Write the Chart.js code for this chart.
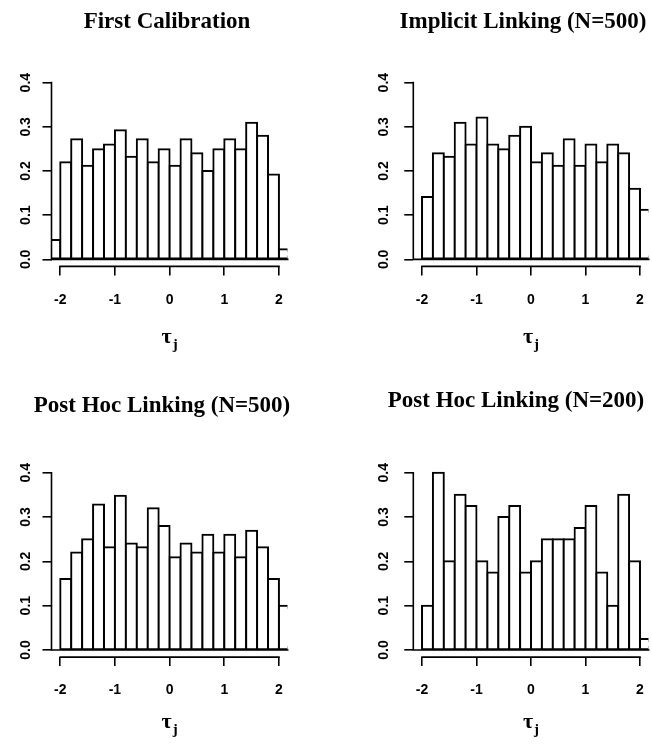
<!DOCTYPE html>
<html>
<head>
<meta charset="utf-8">
<script src="https://cdn.jsdelivr.net/npm/chart.js@4"></script>
<style>
  html, body { margin: 0; padding: 0; background: #ffffff; }
  #wrap { position: relative; width: 652px; height: 744px; overflow: hidden; }
  canvas { position: absolute; }
</style>
</head>
<body>
<div id="wrap">
  <canvas id="p1" width="326" height="372" style="left:0;top:0"></canvas>
  <canvas id="p2" width="326" height="372" style="left:326px;top:0"></canvas>
  <canvas id="p3" width="326" height="372" style="left:0;top:372px"></canvas>
  <canvas id="p4" width="326" height="372" style="left:326px;top:372px"></canvas>
</div>
<script>
// Histogram bins of width 0.2 from -2.2 to 2.2 (bin centres)
const binCenters = [-2.1, -1.9, -1.7, -1.5, -1.3, -1.1, -0.9, -0.7, -0.5, -0.3, -0.1,
                    0.1, 0.3, 0.5, 0.7, 0.9, 1.1, 1.3, 1.5, 1.7, 1.9, 2.1];
const binWidth = 0.2;

// Density per bin for each panel
const firstCalibration = [0.044, 0.220, 0.272, 0.212, 0.249, 0.260, 0.292, 0.232, 0.272, 0.220, 0.249,
                          0.212, 0.272, 0.240, 0.200, 0.249, 0.272, 0.249, 0.309, 0.280, 0.192, 0.023];
const implicitLinking500 = [0, 0.141, 0.240, 0.232, 0.309, 0.260, 0.321, 0.260, 0.249, 0.280, 0.300,
                            0.220, 0.240, 0.212, 0.272, 0.212, 0.260, 0.220, 0.260, 0.240, 0.160, 0.112];
const postHocLinking500 = [0, 0.160, 0.220, 0.250, 0.328, 0.232, 0.348, 0.240, 0.232, 0.320, 0.280,
                           0.209, 0.240, 0.220, 0.260, 0.220, 0.260, 0.209, 0.269, 0.232, 0.160, 0.100];
const postHocLinking200 = [0, 0.100, 0.400, 0.200, 0.350, 0.325, 0.200, 0.175, 0.300, 0.325, 0.175,
                           0.200, 0.250, 0.250, 0.250, 0.275, 0.325, 0.175, 0.100, 0.350, 0.200, 0.025];

const panelTitles = ['First Calibration', 'Implicit Linking (N=500)',
                     'Post Hoc Linking (N=500)', 'Post Hoc Linking (N=200)'];
const xTicks = [-2, -1, 0, 1, 2];
const yTicks = [0, 0.1, 0.2, 0.3, 0.4];
const xRange = [-2.16, 2.16];
const yRange = [-0.016, 0.416];

// Plot-region placement inside each 326x372 canvas
const frames = [
  { left: 51.5, right: 287.7, top: 75.6, bottom: 266.4, titleX: 167, titleY: 28, tauY: 343, yPad: 7 },
  { left: 87.3, right: 322.7, top: 75.6, bottom: 266.4, titleX: 197, titleY: 28, tauY: 343, yPad: 10 },
  { left: 51.5, right: 287.7, top: 93.6, bottom: 285.1, titleX: 162, titleY: 40, tauY: 356, yPad: 7 },
  { left: 87.3, right: 322.7, top: 93.6, bottom: 285.1, titleX: 190, titleY: 35, tauY: 356, yPad: 10 }
];

const series = [firstCalibration, implicitLinking500, postHocLinking500, postHocLinking200];

const AXIS_FONT = { family: '"Liberation Sans", Arial, sans-serif', size: 14, weight: 'bold' };

// Bars that run past the plot region lose the outline on the cut side
function barBorder(ctx) {
  const raw = ctx.raw;
  if (!raw) return 2;
  return {
    top: 2, bottom: 2,
    left: raw.x - binWidth / 2 < xRange[0] ? 0 : 2,
    right: raw.x + binWidth / 2 > xRange[1] ? 0 : 2
  };
}

// Clips the bars to the plot region, then draws R-style axis lines,
// the zero baseline, the panel title and the tau_j label
const basePlot = {
  id: 'basePlot',
  beforeDatasetsDraw(chart) {
    const { ctx, chartArea: a } = chart;
    ctx.save();
    ctx.beginPath();
    ctx.rect(a.left, a.top, a.right - a.left, a.bottom - a.top);
    ctx.clip();
  },
  afterDatasetsDraw(chart, args, opts) {
    const { ctx, chartArea: a, scales: { x, y } } = chart;
    ctx.restore();
    ctx.save();
    ctx.strokeStyle = '#000';
    ctx.lineCap = 'square';
    ctx.lineWidth = 1.6;
    const y0 = y.getPixelForValue(0);
    ctx.beginPath();
    ctx.moveTo(a.left, y0); ctx.lineTo(a.right, y0);
    ctx.moveTo(a.left, y.getPixelForValue(yTicks[0]));
    ctx.lineTo(a.left, y.getPixelForValue(yTicks[yTicks.length - 1]));
    ctx.moveTo(x.getPixelForValue(xTicks[0]), a.bottom);
    ctx.lineTo(x.getPixelForValue(xTicks[xTicks.length - 1]), a.bottom);
    ctx.stroke();
    ctx.restore();
  },
  afterDraw(chart, args, opts) {
    const { ctx, chartArea: a } = chart;
    ctx.save();
    ctx.fillStyle = '#000';
    ctx.textAlign = 'center';
    ctx.textBaseline = 'alphabetic';
    ctx.font = 'bold 23px "Liberation Serif", "Times New Roman", serif';
    ctx.fillText(opts.title, opts.titleX, opts.titleY);

    // axis title: tau with subscript j
    const cx = (a.left + a.right) / 2;
    const tauFont = 'bold 22px "Liberation Serif", "Times New Roman", serif';
    const subFont = 'bold 15px "Liberation Serif", "Times New Roman", serif';
    ctx.font = tauFont;
    const wt = ctx.measureText('τ').width;
    ctx.font = subFont;
    const wj = ctx.measureText('j').width;
    const start = cx - (wt + wj + 1) / 2;
    ctx.textAlign = 'left';
    ctx.font = tauFont;
    ctx.fillText('τ', start, opts.tauY);
    ctx.font = subFont;
    ctx.fillText('j', start + wt + 1, opts.tauY + 6);
    ctx.restore();
  }
};

function makePanel(id, values, title, f) {
  const H = 372, W = 326;
  return new Chart(document.getElementById(id), {
    type: 'bar',
    data: {
      datasets: [{
        data: binCenters.map((c, i) => ({ x: c, y: values[i] })),
        backgroundColor: '#ffffff',
        borderColor: '#000000',
        borderWidth: barBorder,
        inflateAmount: 1,
        borderSkipped: false,
        barPercentage: 1,
        categoryPercentage: 1,
        clip: 0
      }]
    },
    options: {
      responsive: false,
      animation: false,
      events: [],
      layout: { padding: { left: 0, top: f.top, right: W - f.right, bottom: 0 } },
      plugins: {
        legend: { display: false },
        tooltip: { enabled: false },
        basePlot: { title: title, titleX: f.titleX, titleY: f.titleY, tauY: f.tauY }
      },
      scales: {
        x: {
          type: 'linear',
          offset: false,
          min: xRange[0], max: xRange[1],
          afterBuildTicks: s => { s.ticks = xTicks.map(v => ({ value: v })); },
          afterFit: s => { s.height = H - f.bottom; s.paddingLeft = 0; s.paddingRight = 0; },
          grid: { display: true, offset: false, drawOnChartArea: false, drawTicks: true, tickLength: 9, color: '#000', lineWidth: 1.6 },
          border: { display: false },
          ticks: { color: '#000', font: AXIS_FONT, padding: 16, autoSkip: false, maxRotation: 0,
                   callback: v => String(v) }
        },
        y: {
          type: 'linear',
          min: yRange[0], max: yRange[1],
          afterBuildTicks: s => { s.ticks = yTicks.map(v => ({ value: v })); },
          afterFit: s => { s.width = f.left; s.paddingTop = 0; s.paddingBottom = 0; },
          grid: { display: true, drawOnChartArea: false, drawTicks: true, tickLength: 9, color: '#000', lineWidth: 1.6 },
          border: { display: false },
          ticks: { color: '#000', font: AXIS_FONT, padding: f.yPad, autoSkip: false,
                   minRotation: 90, maxRotation: 90, crossAlign: 'center',
                   callback: v => Number(v).toFixed(1) }
        }
      }
    },
    plugins: [basePlot]
  });
}

['p1', 'p2', 'p3', 'p4'].forEach((id, i) => makePanel(id, series[i], panelTitles[i], frames[i]));
</script>
</body>
</html>
